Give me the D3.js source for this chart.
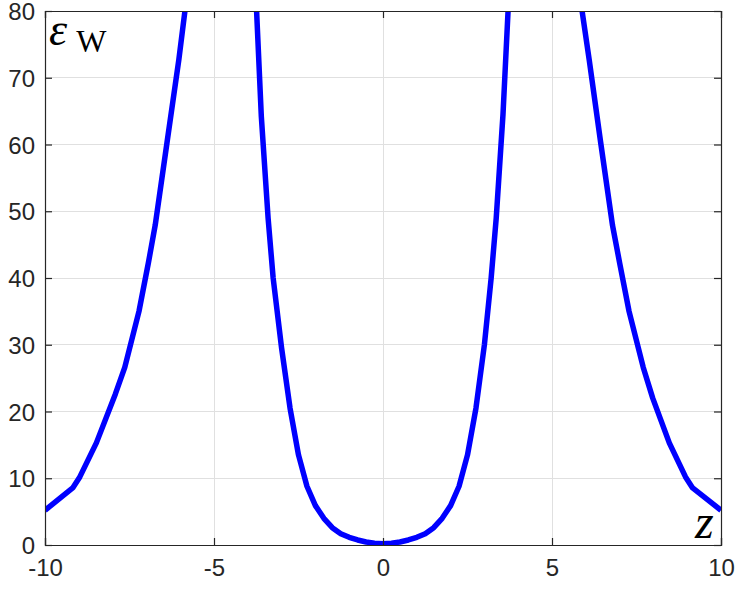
<!DOCTYPE html>
<html>
<head>
<meta charset="utf-8">
<script src="https://cdn.jsdelivr.net/npm/d3@7"></script>
<style>
  html, body { margin: 0; padding: 0; background: #fff; }
  svg { display: block; }
</style>
</head>
<body>
<svg id="chart" width="740" height="589"></svg>
<script>
// ---- data ----
const xTicks = [-10, -5, 0, 5, 10];
const yTicks = [0, 10, 20, 30, 40, 50, 60, 70, 80];

// outer left branch
const zOuterLeft   = [-10, -9.18, -8.97, -8.48, -7.92, -7.64, -7.22, -6.94, -6.74, -6.39, -6.04, -5.86, -5.7];
const epsOuterLeft = [5.2, 8.55, 10.2, 15.3, 22.6, 26.6, 35.0, 42.3, 47.9, 60.3, 72.7, 80, 86.5];

// central well
const zCenter   = [-3.85, -3.74, -3.6, -3.4, -3.25, -3.0, -2.75, -2.5, -2.25, -2.0, -1.75, -1.5, -1.25, -1.0, -0.75, -0.5, -0.25, 0,
                   0.25, 0.5, 0.75, 1.0, 1.25, 1.5, 1.75, 2.0, 2.25, 2.5, 2.75, 3.0, 3.2, 3.35, 3.55, 3.7, 3.82];
const epsCenter = [92, 80, 64.2, 49.0, 40.0, 29.5, 20.5, 13.5, 8.8, 5.9, 4.0, 2.6, 1.7, 1.15, 0.75, 0.45, 0.28, 0.2,
                   0.28, 0.45, 0.75, 1.15, 1.7, 2.6, 4.0, 5.9, 8.8, 13.5, 20.5, 30.0, 40.0, 49.0, 64.5, 80, 92];

// outer right branch
const zOuterRight   = [5.73, 5.89, 6.10, 6.44, 6.79, 7.0, 7.28, 7.70, 7.98, 8.47, 8.95, 9.16, 10];
const epsOuterRight = [86.5, 80, 72.7, 60.3, 47.9, 42.3, 35.0, 26.6, 22.0, 15.3, 10.2, 8.55, 5.2];

// ---- layout ----
const L = 45, R = 721, T = 11, B = 545;
const svg = d3.select("#chart");

const x = d3.scaleLinear().domain([-10, 10]).range([L, R]);
const y = d3.scaleLinear().domain([0, 80]).range([B, T]);

const axisColor = "#262626";
const gridColor = "#e0e0e0";
const fontFam = "'Liberation Sans', Arial, Helvetica, sans-serif";

// grid
const grid = svg.append("g");
grid.selectAll("line.gx").data(xTicks.slice(1, -1)).enter().append("line")
  .attr("x1", d => x(d)).attr("x2", d => x(d)).attr("y1", T).attr("y2", B)
  .attr("stroke", gridColor).attr("stroke-width", 1).attr("shape-rendering", "crispEdges");
grid.selectAll("line.gy").data(yTicks.slice(1, -1)).enter().append("line")
  .attr("y1", d => y(d)).attr("y2", d => y(d)).attr("x1", L).attr("x2", R)
  .attr("stroke", gridColor).attr("stroke-width", 1).attr("shape-rendering", "crispEdges");

// clip
svg.append("clipPath").attr("id", "clip").append("rect")
  .attr("x", L).attr("y", T).attr("width", R - L).attr("height", B - T);

const line = d3.line().x(d => x(d[0])).y(d => y(d[1]));
const series = [
  d3.zip(zOuterLeft, epsOuterLeft),
  d3.zip(zCenter, epsCenter),
  d3.zip(zOuterRight, epsOuterRight)
];
svg.append("g").attr("clip-path", "url(#clip)")
  .selectAll("path").data(series).enter().append("path")
  .attr("d", line)
  .attr("fill", "none")
  .attr("stroke", "#0000ff")
  .attr("stroke-width", 5.5)
  .attr("stroke-linejoin", "round");

// axes with inward ticks
const tickLen = 7;
const fmt = d => String(d);
const axB = svg.append("g").attr("transform", `translate(0,${B})`)
  .call(d3.axisBottom(x).tickValues(xTicks).tickSize(-tickLen).tickPadding(14).tickFormat(fmt));
const axT = svg.append("g").attr("transform", `translate(0,${T})`)
  .call(d3.axisTop(x).tickValues(xTicks).tickSize(-tickLen).tickFormat(""));
const axL = svg.append("g").attr("transform", `translate(${L},0)`)
  .call(d3.axisLeft(y).tickValues(yTicks).tickSize(-tickLen).tickPadding(10).tickFormat(fmt));
const axR = svg.append("g").attr("transform", `translate(${R},0)`)
  .call(d3.axisRight(y).tickValues(yTicks).tickSize(-tickLen).tickFormat(""));

[axB, axT, axL, axR].forEach(a => {
  a.select(".domain").attr("stroke", axisColor).attr("stroke-width", 1.2);
  a.selectAll(".tick line").attr("stroke", axisColor).attr("stroke-width", 1.2);
  a.selectAll("text").attr("fill", axisColor).style("font-family", fontFam).style("font-size", "24px");
});
axB.selectAll("text").attr("dy", "0.71em");
axL.selectAll("text").attr("dy", "0.36em");

// labels
const eps = svg.append("text").attr("x", 49).attr("y", 45)
  .style("font-family", "'Liberation Serif', 'Times New Roman', serif")
  .attr("fill", "#000");
eps.append("tspan").text("ε").style("font-style", "italic").style("font-size", "46px");
eps.append("tspan").text("W").attr("dx", 9).attr("dy", 7).style("font-size", "32px");

svg.append("text").attr("x", 695).attr("y", 538)
  .style("font-family", "'Liberation Serif', 'Times New Roman', serif")
  .style("font-style", "italic").style("font-size", "48px").attr("fill", "#000")
  .text("z");
</script>
</body>
</html>
